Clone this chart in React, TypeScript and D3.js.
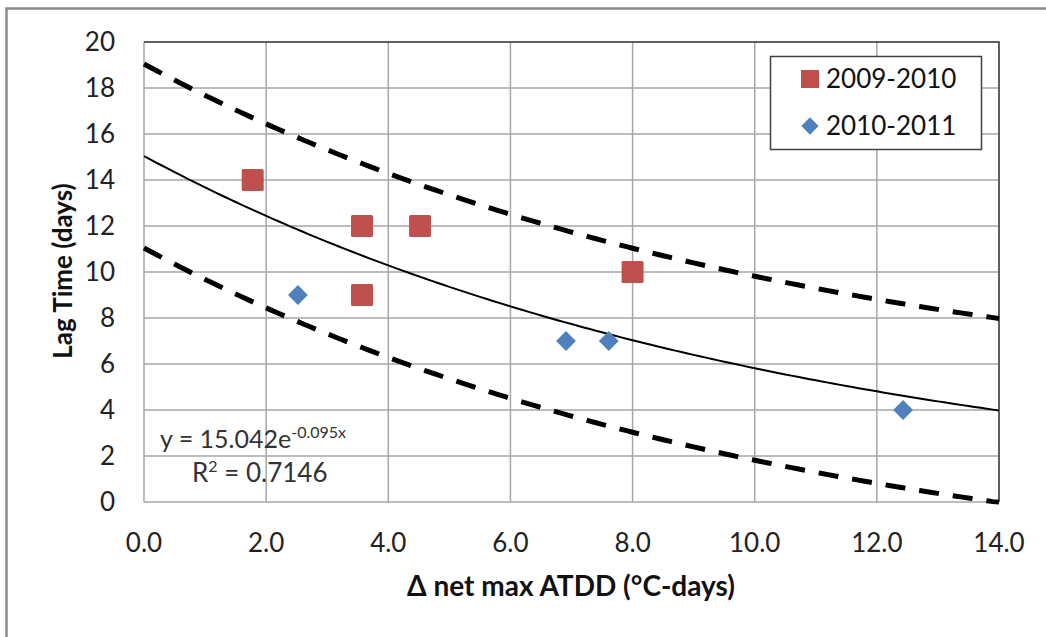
import * as d3 from "d3";
import { useEffect, useRef } from "react";

// --- data ---
const xTicks = [0, 2, 4, 6, 8, 10, 12, 14];
const yTicks = [0, 2, 4, 6, 8, 10, 12, 14, 16, 18, 20];

const series2009X = [1.78, 3.57, 3.57, 4.52, 8.0];
const series2009Y = [14, 12, 9, 12, 10];
const series2010X = [2.52, 6.91, 7.61, 12.43];
const series2010Y = [9, 7, 7, 4];

// trendline y = a * e^(b x), band = trend +/- offset
const trendA = 15.042;
const trendB = -0.095;
const bandOffset = 4;
const trendXs = d3.range(0, 14.01, 0.1);

const legendLabels = ["2009-2010", "2010-2011"];
const redColor = "#C0504D";
const blueColor = "#4F81BD";
const font = "Lato, 'Open Sans', sans-serif";

export default function App() {
  const svgRef = useRef<SVGSVGElement | null>(null);
  useEffect(() => {
    if (!svgRef.current) return;
    drawChart(svgRef.current);
  }, []);
  return (
    <svg
      ref={svgRef}
      width={1046}
      height={637}
      style={{ position: "absolute", left: 0, top: 0, background: "#fff" }}
    />
  );
}

function drawChart(svgElement: SVGSVGElement) {
  const svg = d3.select(svgElement);
  svg.selectAll("*").remove();

  // outer chart frame
  svg
    .append("rect")
    .attr("x", 6.5)
    .attr("y", 8.5)
    .attr("width", 1060)
    .attr("height", 700)
    .attr("fill", "#fff")
    .attr("stroke", "#8c8c8c")
    .attr("stroke-width", 2.5);

  const margin = { top: 42, left: 144, right: 999, bottom: 502 };

  const x = d3.scaleLinear().domain([0, 14]).range([margin.left, margin.right]);
  const y = d3.scaleLinear().domain([0, 20]).range([margin.bottom, margin.top]);

  // --- Gridlines ---
  const grid = svg.append("g");
  grid
    .selectAll(".vg")
    .data(xTicks)
    .join("line")
    .attr("x1", (d) => x(d))
    .attr("x2", (d) => x(d))
    .attr("y1", margin.top)
    .attr("y2", margin.bottom)
    .attr("stroke", "#a6a6a6")
    .attr("stroke-width", 1.5);
  grid
    .selectAll(".hg")
    .data(yTicks)
    .join("line")
    .attr("x1", margin.left)
    .attr("x2", margin.right)
    .attr("y1", (d) => y(d))
    .attr("y2", (d) => y(d))
    .attr("stroke", "#a6a6a6")
    .attr("stroke-width", 1.5);

  // plot border top/right (darker)
  svg
    .append("path")
    .attr("d", `M${margin.left},${margin.top}H${margin.right}V${margin.bottom}`)
    .attr("fill", "none")
    .attr("stroke", "#404040")
    .attr("stroke-width", 1.5);

  // --- Axis labels ---
  svg
    .append("g")
    .selectAll("text")
    .data(yTicks)
    .join("text")
    .attr("x", 115)
    .attr("y", (d) => y(d))
    .attr("dy", "0.36em")
    .attr("text-anchor", "end")
    .attr("font-family", font)
    .attr("font-size", 26)
    .attr("fill", "#222")
    .text((d) => d);

  svg
    .append("g")
    .selectAll("text")
    .data(xTicks)
    .join("text")
    .attr("x", (d) => x(d))
    .attr("y", 543)
    .attr("dy", "0.36em")
    .attr("text-anchor", "middle")
    .attr("font-family", font)
    .attr("font-size", 26)
    .attr("fill", "#222")
    .text((d) => d3.format(".1f")(d));

  svg
    .append("text")
    .attr("transform", "translate(72,271) rotate(-90)")
    .attr("text-anchor", "middle")
    .attr("font-family", font)
    .attr("font-weight", "bold")
    .attr("font-size", 26)
    .attr("fill", "#111")
    .text("Lag Time (days)");

  svg
    .append("text")
    .attr("x", 571)
    .attr("y", 596)
    .attr("text-anchor", "middle")
    .attr("font-family", font)
    .attr("font-weight", "bold")
    .attr("font-size", 28)
    .attr("fill", "#111")
    .text("Δ net max ATDD (°C-days)");

  // --- Lines ---
  const line = d3
    .line<number>()
    .x((d) => x(d))
    .y((d) => y(trendA * Math.exp(trendB * d)));
  const upper = d3
    .line<number>()
    .x((d) => x(d))
    .y((d) => y(trendA * Math.exp(trendB * d) + bandOffset));
  const lower = d3
    .line<number>()
    .x((d) => x(d))
    .y((d) => y(Math.max(0, trendA * Math.exp(trendB * d) - bandOffset)));

  svg
    .append("path")
    .attr("d", line(trendXs)!)
    .attr("fill", "none")
    .attr("stroke", "#000")
    .attr("stroke-width", 2);

  [upper, lower].forEach((gen) => {
    svg
      .append("path")
      .attr("d", gen(trendXs)!)
      .attr("fill", "none")
      .attr("stroke", "#000")
      .attr("stroke-width", 5)
      .attr("stroke-dasharray", "20,14");
  });

  // --- Points ---
  const sq = 22;
  svg
    .append("g")
    .selectAll("rect")
    .data(series2009X.map((v, i) => [v, series2009Y[i]]))
    .join("rect")
    .attr("x", (d) => x(d[0]) - sq / 2)
    .attr("y", (d) => y(d[1]) - sq / 2)
    .attr("width", sq)
    .attr("height", sq)
    .attr("rx", 1.5)
    .attr("fill", redColor);

  const diamond = d3.symbol(d3.symbolDiamond2, 250);
  svg
    .append("g")
    .selectAll("path")
    .data(series2010X.map((v, i) => [v, series2010Y[i]]))
    .join("path")
    .attr("transform", (d) => `translate(${x(d[0])},${y(d[1])})`)
    .attr("d", diamond()!)
    .attr("fill", blueColor);

  // --- Trendline equation ---
  const eq = svg
    .append("text")
    .attr("x", 160)
    .attr("y", 448)
    .attr("font-family", font)
    .attr("font-size", 25)
    .attr("fill", "#333");
  eq.append("tspan").text("y = 15.042e");
  eq.append("tspan").attr("dy", -10).attr("font-size", 16).text("-0.095x");

  const r2 = svg
    .append("text")
    .attr("x", 192)
    .attr("y", 482)
    .attr("font-family", font)
    .attr("font-size", 26)
    .attr("fill", "#333");
  r2.append("tspan").text("R");
  r2.append("tspan").attr("dy", -10).attr("font-size", 16).text("2");
  r2.append("tspan").attr("dy", 10).text(" = 0.7146");

  // --- Legend ---
  const legend = svg.append("g");
  legend
    .append("rect")
    .attr("x", 770.5)
    .attr("y", 56.5)
    .attr("width", 211)
    .attr("height", 93)
    .attr("fill", "#fff")
    .attr("stroke", "#404040")
    .attr("stroke-width", 1.5);
  legend
    .append("rect")
    .attr("x", 801)
    .attr("y", 70)
    .attr("width", 18)
    .attr("height", 18)
    .attr("fill", redColor);
  legend
    .append("path")
    .attr("transform", "translate(810,126)")
    .attr("d", d3.symbol(d3.symbolDiamond2, 190)()!)
    .attr("fill", blueColor);
  legend
    .selectAll("text")
    .data(legendLabels)
    .join("text")
    .attr("x", 826)
    .attr("y", (d, i) => 79 + i * 47)
    .attr("dy", "0.36em")
    .attr("font-family", font)
    .attr("font-size", 26)
    .attr("fill", "#111")
    .text((d) => d);
}
